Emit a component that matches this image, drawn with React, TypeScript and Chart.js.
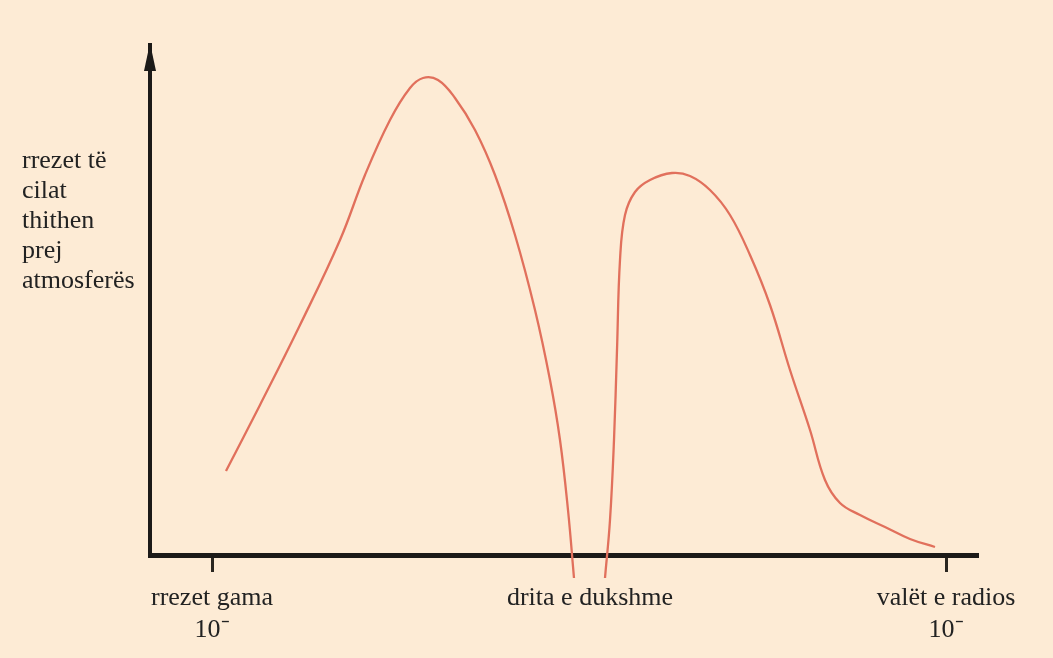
import React, { useEffect, useRef } from "react";
import { Chart, registerables } from "chart.js";

Chart.register(...registerables);

// Curve 1 (left hump), x/y in chart units
const leftX = [76, 110, 150, 190, 215, 240, 260, 273, 288, 305, 325, 345, 365, 385, 400, 410, 418, 424];
const leftY = [84, 150, 230, 315, 380, 435, 467, 477, 475, 457, 425, 380, 320, 245, 175, 115, 45, -23];

// Curve 2 (right hump)
const rightX = [455, 460, 464, 467, 470, 475, 485, 500, 522, 540, 560, 580, 600, 620, 640, 660, 675, 690, 710, 735, 760, 785];
const rightY = [-23, 35, 115, 205, 295, 340, 363, 375, 382, 379, 365, 340, 300, 250, 185, 125, 75, 52, 40, 28, 16, 8];

// Axis ticks / labels
const xTickValues = [62, 440, 796];
const xTickLabels: (string | string[])[] = [["rrezet gama", "10⁻"], "drita e dukshme", ["valët e radios", "10⁻"]];
const yTickValues = [334];
const yTickLabels: string[][] = [["rrezet të", "cilat", "thithen", "prej", "atmosferës"]];

const X_MAX = 828;
const Y_MAX = 510;

const CURVE = "#E1705C";
const INK = "#1c1a18";
const BG = "rgb(253,235,213)";

const arrowPlugin = {
  id: "yArrow",
  afterDraw(chart: any) {
    const { ctx, chartArea } = chart;
    const x = chartArea.left;
    const tip = chartArea.top - 2;
    ctx.save();
    ctx.fillStyle = INK;
    ctx.beginPath();
    ctx.moveTo(x, tip);
    ctx.lineTo(x - 6, tip + 28);
    ctx.lineTo(x + 6, tip + 28);
    ctx.closePath();
    ctx.fill();
    ctx.restore();
  },
};

export default function App() {
  const ref = useRef<HTMLCanvasElement | null>(null);

  useEffect(() => {
    if (!ref.current) return;
    const font = { family: "'Liberation Serif', 'Times New Roman', serif", size: 26 };
    const chart = new Chart(ref.current, {
      type: "line",
      data: {
        datasets: [
          {
            data: leftX.map((x, i) => ({ x, y: leftY[i] })),
            borderColor: CURVE,
            borderWidth: 2.3,
            pointRadius: 0,
            tension: 0.4,
            clip: false as any,
          },
          {
            data: rightX.map((x, i) => ({ x, y: rightY[i] })),
            borderColor: CURVE,
            borderWidth: 2.3,
            pointRadius: 0,
            tension: 0.4,
            clip: false as any,
          },
        ],
      },
      options: {
        animation: false,
        responsive: false,
        layout: { padding: { left: 22, top: 45, right: 75, bottom: 0 } },
        plugins: { legend: { display: false }, tooltip: { enabled: false } },
        scales: {
          x: {
            type: "linear",
            min: 0,
            max: X_MAX,
            afterBuildTicks: (s: any) => {
              s.ticks = xTickValues.map((v) => ({ value: v }));
            },
            afterFit: (s: any) => {
              s.height = 103;
            },
            grid: {
              display: true,
              drawOnChartArea: false,
              drawTicks: true,
              tickLength: 17,
              tickWidth: 3,
              tickColor: (c: any) => (c.tick && c.tick.value === 440 ? "rgba(0,0,0,0)" : "#2a2620"),
            },
            border: { display: true, color: INK, width: 5 },
            ticks: {
              autoSkip: false,
              maxRotation: 0,
              padding: 10,
              color: "#222",
              font: { ...font, lineHeight: "32px" } as any,
              callback: (v: any) => {
                const i = xTickValues.indexOf(Number(v));
                return i >= 0 ? xTickLabels[i] : "";
              },
            },
          },
          y: {
            type: "linear",
            min: 0,
            max: Y_MAX,
            afterBuildTicks: (s: any) => {
              s.ticks = yTickValues.map((v) => ({ value: v }));
            },
            afterFit: (s: any) => {
              s.width = 128;
              s.paddingTop = 0;
              s.paddingBottom = 0;
            },
            grid: { display: false, drawTicks: false },
            border: { display: true, color: INK, width: 4 },
            ticks: {
              autoSkip: false,
              crossAlign: "far",
              color: "#222",
              font: { ...font, lineHeight: "30px" } as any,
              callback: (v: any) => {
                const i = yTickValues.indexOf(Number(v));
                return i >= 0 ? yTickLabels[i] : "";
              },
            },
          },
        },
      },
      plugins: [arrowPlugin],
    });
    return () => chart.destroy();
  }, []);

  return (
    <div style={{ position: "fixed", left: 0, top: 0, width: 1053, height: 658, background: BG }}>
      <canvas ref={ref} width={1053} height={658} style={{ display: "block" }} />
    </div>
  );
}
